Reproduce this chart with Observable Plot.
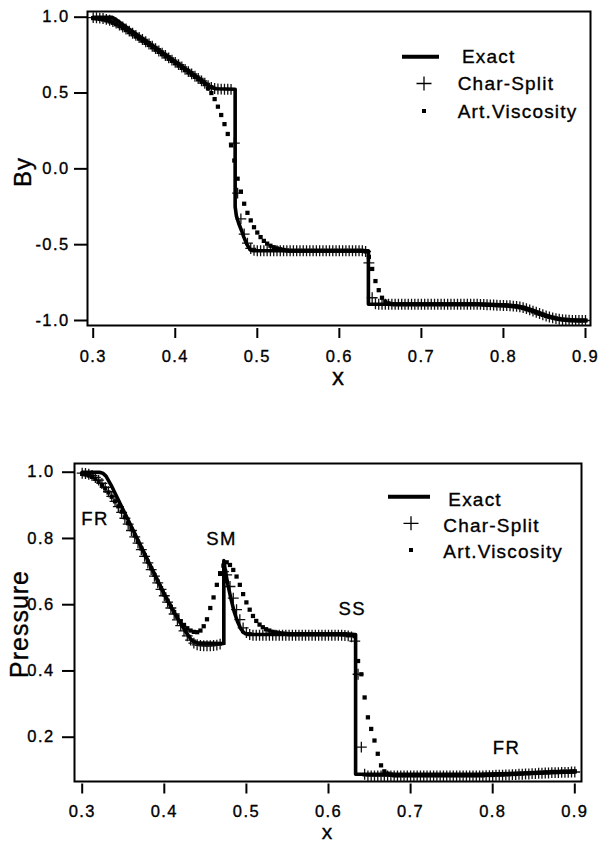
<!DOCTYPE html>
<html><head><meta charset="utf-8">
<script src="https://cdn.jsdelivr.net/npm/d3@7"></script>
<script src="https://cdn.jsdelivr.net/npm/@observablehq/plot@0.6"></script>
<style>
body{margin:0;background:#fff;}
#wrap{position:relative;width:598px;height:844px;overflow:hidden;font-family:"Liberation Sans",Arial,sans-serif;}
#top,#bot,#over{position:absolute;left:0;}
#top{top:0}#bot{top:440px}#over{top:0}
#wrap svg text{stroke:#000;stroke-width:0.35px;}
</style></head><body>
<div id="wrap"><div id="top"></div><div id="bot"></div><svg id="over" width="598" height="844"></svg></div>
<script>
// ---------- data ----------
const xTicks = [0.3, 0.4, 0.5, 0.6, 0.7, 0.8, 0.9];
const byTicks = [-1.0, -0.5, 0.0, 0.5, 1.0];
const pTicks = [0.2, 0.4, 0.6, 0.8, 1.0];
const seriesNames = ["Exact", "Char-Split", "Art.Viscosity"];

// sampling grid of the numerical solutions
const xGrid = [
0.300,0.304,0.308,0.312,0.316,0.320,0.324,0.328,0.332,0.336,
0.340,0.344,0.348,0.352,0.356,0.360,0.364,0.368,0.372,0.376,
0.380,0.384,0.388,0.392,0.396,0.400,0.404,0.408,0.412,0.416,
0.420,0.424,0.428,0.432,0.436,0.440,0.444,0.448,0.452,0.456,
0.460,0.464,0.468,0.472,0.476,0.480,0.484,0.488,0.492,0.496,
0.500,0.504,0.508,0.512,0.516,0.520,0.524,0.528,0.532,0.536,
0.540,0.544,0.548,0.552,0.556,0.560,0.564,0.568,0.572,0.576,
0.580,0.584,0.588,0.592,0.596,0.600,0.604,0.608,0.612,0.616,
0.620,0.624,0.628,0.632,0.636,0.640,0.644,0.648,0.652,0.656,
0.660,0.664,0.668,0.672,0.676,0.680,0.684,0.688,0.692,0.696,
0.700,0.704,0.708,0.712,0.716,0.720,0.724,0.728,0.732,0.736,
0.740,0.744,0.748,0.752,0.756,0.760,0.764,0.768,0.772,0.776,
0.780,0.784,0.788,0.792,0.796,0.800,0.804,0.808,0.812,0.816,
0.820,0.824,0.828,0.832,0.836,0.840,0.844,0.848,0.852,0.856,
0.860,0.864,0.868,0.872,0.876,0.880,0.884,0.888,0.892,0.896,
0.900];

// By, Char-Split
const byCharSplit = [
0.997,0.996,0.994,0.991,0.986,0.980,0.972,0.961,0.948,0.935,
0.922,0.908,0.894,0.880,0.866,0.853,0.838,0.823,0.808,0.793,
0.777,0.762,0.747,0.732,0.717,0.702,0.687,0.672,0.656,0.641,
0.626,0.611,0.596,0.580,0.564,0.549,0.537,0.530,0.527,0.526,
0.525,0.525,0.524,0.170,-0.160,-0.330,-0.430,-0.490,-0.525,-0.537,
-0.540,-0.540,-0.540,-0.540,-0.540,-0.540,-0.540,-0.540,-0.540,-0.540,
-0.540,-0.540,-0.540,-0.540,-0.540,-0.540,-0.540,-0.540,-0.540,-0.540,
-0.540,-0.540,-0.540,-0.540,-0.540,-0.540,-0.540,-0.540,-0.540,-0.540,
-0.540,-0.540,-0.540,-0.545,-0.620,-0.850,-0.890,-0.893,-0.893,-0.893,
-0.893,-0.893,-0.893,-0.893,-0.893,-0.893,-0.893,-0.893,-0.893,-0.893,
-0.893,-0.893,-0.893,-0.893,-0.893,-0.893,-0.893,-0.893,-0.893,-0.893,
-0.893,-0.893,-0.893,-0.893,-0.893,-0.893,-0.893,-0.893,-0.894,-0.895,
-0.896,-0.897,-0.898,-0.899,-0.900,-0.901,-0.902,-0.903,-0.905,-0.907,
-0.910,-0.915,-0.922,-0.930,-0.938,-0.946,-0.954,-0.962,-0.970,-0.977,
-0.983,-0.988,-0.992,-0.995,-0.997,-0.998,-0.999,-1.000,-1.000,-1.000,
-1.000];

// By, Art.Viscosity
const byArtVisc = [
0.994,0.992,0.989,0.985,0.979,0.972,0.963,0.953,0.941,0.928,
0.915,0.901,0.887,0.873,0.859,0.845,0.831,0.817,0.802,0.787,
0.772,0.757,0.742,0.727,0.712,0.697,0.682,0.667,0.652,0.637,
0.622,0.607,0.592,0.577,0.560,0.530,0.500,0.460,0.410,0.355,
0.295,0.230,0.155,0.055,-0.065,-0.150,-0.230,-0.290,-0.340,-0.385,
-0.420,-0.450,-0.475,-0.493,-0.507,-0.517,-0.525,-0.530,-0.535,-0.538,
-0.540,-0.540,-0.540,-0.540,-0.540,-0.540,-0.540,-0.540,-0.540,-0.540,
-0.540,-0.540,-0.540,-0.540,-0.540,-0.540,-0.540,-0.540,-0.540,-0.540,
-0.540,-0.540,-0.540,-0.545,-0.580,-0.660,-0.740,-0.800,-0.850,-0.875,
-0.887,-0.892,-0.893,-0.893,-0.893,-0.893,-0.893,-0.893,-0.893,-0.893,
-0.893,-0.893,-0.893,-0.893,-0.893,-0.893,-0.893,-0.893,-0.893,-0.893,
-0.893,-0.893,-0.893,-0.893,-0.893,-0.893,-0.893,-0.893,-0.894,-0.895,
-0.896,-0.897,-0.898,-0.899,-0.900,-0.901,-0.902,-0.904,-0.906,-0.909,
-0.913,-0.918,-0.925,-0.932,-0.940,-0.948,-0.956,-0.963,-0.970,-0.976,
-0.981,-0.986,-0.990,-0.993,-0.995,-0.997,-0.998,-0.999,-1.000,-1.000,
-1.000];

// By, exact solution (break points)
const byExactX = [0.300,0.3225,0.328,0.335,0.436,0.440,0.444,0.449,0.473,0.473,0.4745,0.4775,0.481,0.4836,0.487,0.4917,0.495,0.6354,0.6354,0.770,0.800,0.815,0.825,0.835,0.845,0.855,0.865,0.872,0.880,0.900];
const byExactY = [1.000,1.000,0.984,0.955,0.569,0.552,0.538,0.528,0.525,-0.250,-0.310,-0.362,-0.410,-0.450,-0.495,-0.535,-0.540,-0.540,-0.893,-0.893,-0.897,-0.903,-0.912,-0.930,-0.952,-0.972,-0.988,-0.995,-1.000,-1.000];

// Pressure, Char-Split
const pCharSplit = [
0.997,0.996,0.994,0.990,0.984,0.976,0.966,0.954,0.941,0.927,
0.912,0.896,0.879,0.861,0.843,0.824,0.805,0.786,0.766,0.746,
0.726,0.706,0.686,0.666,0.646,0.627,0.608,0.590,0.572,0.554,
0.537,0.521,0.506,0.493,0.484,0.479,0.477,0.476,0.476,0.476,
0.477,0.478,0.481,0.700,0.690,0.655,0.620,0.585,0.555,0.530,
0.516,0.510,0.508,0.508,0.508,0.508,0.508,0.508,0.508,0.508,
0.508,0.508,0.508,0.508,0.508,0.508,0.508,0.508,0.508,0.508,
0.508,0.508,0.508,0.508,0.508,0.508,0.508,0.508,0.508,0.508,
0.507,0.506,0.503,0.490,0.390,0.170,0.088,0.083,0.083,0.083,
0.083,0.083,0.083,0.083,0.083,0.083,0.083,0.083,0.083,0.083,
0.083,0.083,0.083,0.083,0.083,0.083,0.083,0.083,0.083,0.083,
0.083,0.083,0.083,0.083,0.083,0.083,0.083,0.083,0.083,0.083,
0.083,0.083,0.083,0.084,0.084,0.084,0.085,0.085,0.085,0.086,
0.086,0.087,0.087,0.088,0.088,0.089,0.089,0.090,0.090,0.091,
0.091,0.092,0.092,0.093,0.093,0.093,0.094,0.094,0.094,0.095,
0.095];

// Pressure, Art.Viscosity
const pArtVisc = [
0.995,0.993,0.990,0.986,0.980,0.972,0.962,0.951,0.939,0.926,
0.912,0.897,0.881,0.864,0.846,0.828,0.809,0.790,0.770,0.750,
0.730,0.710,0.690,0.670,0.650,0.631,0.612,0.594,0.578,0.563,
0.550,0.539,0.529,0.522,0.518,0.517,0.522,0.535,0.556,0.590,
0.622,0.660,0.693,0.718,0.728,0.720,0.705,0.685,0.660,0.632,
0.607,0.585,0.566,0.551,0.540,0.532,0.526,0.522,0.518,0.516,
0.514,0.513,0.512,0.511,0.511,0.511,0.511,0.511,0.511,0.511,
0.511,0.511,0.511,0.511,0.511,0.511,0.511,0.511,0.511,0.511,
0.511,0.510,0.509,0.505,0.430,0.390,0.320,0.260,0.225,0.190,
0.150,0.115,0.097,0.090,0.087,0.085,0.085,0.085,0.085,0.085,
0.085,0.085,0.085,0.085,0.085,0.085,0.085,0.085,0.085,0.085,
0.085,0.085,0.085,0.085,0.085,0.085,0.085,0.085,0.085,0.085,
0.085,0.085,0.085,0.086,0.086,0.086,0.087,0.087,0.087,0.088,
0.088,0.089,0.089,0.090,0.090,0.091,0.091,0.092,0.092,0.093,
0.093,0.094,0.094,0.095,0.095,0.095,0.096,0.096,0.096,0.097,
0.097];

// Pressure, exact solution (break points)
const pExactX = [0.300,0.321,0.325,0.329,0.335,0.400,0.410,0.420,0.427,0.432,0.436,0.442,0.4725,0.4725,0.4745,0.4775,0.481,0.485,0.489,0.493,0.497,0.502,0.633,0.633,0.780,0.840,0.900];
const pExactY = [1.000,1.000,0.997,0.988,0.962,0.632,0.585,0.543,0.515,0.497,0.488,0.484,0.483,0.733,0.700,0.660,0.620,0.580,0.550,0.528,0.515,0.510,0.510,0.088,0.088,0.091,0.095];

// wave annotations in the pressure panel
const annLabels = ["FR", "SM", "SS", "FR"];
const annX = [0.3156, 0.4697, 0.6289, 0.8168];
const annY = [0.859, 0.799, 0.588, 0.166];

// ---------- build ----------
const pts = (xs, ys) => xs.map((x, i) => ({x, y: ys[i]}));
const fmt = d => d.toFixed(1);
const FONT = '"Liberation Sans", Arial, Helvetica, sans-serif';

function panel(o) {
  return Plot.plot({
    width: 598, height: o.height,
    marginTop: o.mt, marginRight: o.mr, marginBottom: o.mb, marginLeft: o.ml,
    x: {domain: o.xDomain},
    y: {domain: o.yDomain},
    style: {fontFamily: FONT, fontSize: "16.5px", letterSpacing: "1.4px", color: "black", background: "transparent", overflow: "visible"},
    marks: [
      Plot.frame({strokeWidth: 2, stroke: "black"}),
      Plot.axisX({ticks: xTicks, tickFormat: fmt, tickSize: 10, tickPadding: o.xPad, dy: o.xGap, strokeWidth: 2, label: null}),
      Plot.axisY({ticks: o.yTicks, tickFormat: fmt, tickSize: o.yTickSize, tickPadding: o.yPad, strokeWidth: 2, label: null}),
      Plot.dot(pts(xGrid, o.cs), {x: "x", y: "y", symbol: "plus", r: 3.6, stroke: "#111", strokeWidth: 1.3}),
      Plot.dot(pts(xGrid, o.av), {x: "x", y: "y", symbol: "square", r: 2.4, fill: "black", stroke: null}),
      Plot.line(pts(o.exX, o.exY), {x: "x", y: "y", stroke: "black", strokeWidth: 3.6}),
      ...(o.extra || [])
    ]
  });
}

document.getElementById("top").append(panel({
  height: 400, mt: 11, mr: 8, mb: 75, ml: 87,
  xDomain: [0.29305, 0.9061], yDomain: [-1.033, 1.0376],
  yTicks: byTicks, yTickSize: 13, yPad: 5, xGap: 3, xPad: 12,
  cs: byCharSplit, av: byArtVisc, exX: byExactX, exY: byExactY
}));

document.getElementById("bot").append(panel({
  height: 404, mt: 23, mr: 17, mb: 63, ml: 74,
  xDomain: [0.29062, 0.90816], yDomain: [0.0663, 1.0263],
  yTicks: pTicks, yTickSize: 12, yPad: 8, xGap: 2.5, xPad: 11,
  cs: pCharSplit, av: pArtVisc, exX: pExactX, exY: pExactY,
  extra: [Plot.text(annLabels.map((t, i) => ({t, x: annX[i], y: annY[i]})), {x: "x", y: "y", text: "t", fontSize: 18.5, letterSpacing: "0.6px"})]
}));

// ---------- axis titles & legends ----------
const over = d3.select("#over").style("font-family", FONT);
function title(x, y, s, rot, size) {
  over.append("text")
    .attr("transform", `translate(${x},${y})` + (rot ? " rotate(-90)" : ""))
    .attr("text-anchor", "middle").style("font-size", size + "px").style("letter-spacing", "1px")
    .text(s);
}
title(31, 172, "By", true, 24);
title(28, 624, "Pressure", true, 25);
title(338.5, 385, "x", false, 24);
title(327.5, 839.3, "x", false, 21);

function legend(L) {
  const g = over.append("g").style("font-size", "19px").style("letter-spacing", "1.2px");
  g.append("line").attr("x1", L.lx1).attr("x2", L.lx2).attr("y1", L.ly).attr("y2", L.ly)
    .attr("stroke", "black").attr("stroke-width", 4);
  g.append("text").attr("x", L.ex).attr("y", L.eb).text(seriesNames[0]);
  g.append("path").attr("d", `M${L.px - 7.5},${L.py}H${L.px + 7.5}M${L.px},${L.py - 7}V${L.py + 7}`)
    .attr("stroke", "black").attr("stroke-width", 1.3).attr("fill", "none");
  g.append("text").attr("x", L.cx).attr("y", L.cb).text(seriesNames[1]);
  g.append("rect").attr("x", L.px - 2).attr("y", L.dy - 2).attr("width", 4).attr("height", 4).attr("fill", "black");
  g.append("text").attr("x", L.cx).attr("y", L.ab).text(seriesNames[2]);
}
legend({lx1: 402, lx2: 439, ly: 56.7, ex: 462, eb: 63.4, px: 424, py: 83.5, cx: 457.7, cb: 90.3, dy: 111, ab: 117.5});
legend({lx1: 388, lx2: 430, ly: 496.7, ex: 448.3, eb: 506, px: 411, py: 523.3, cx: 443.3, cb: 531.5, dy: 550, ab: 558.3});
</script>
</body></html>
